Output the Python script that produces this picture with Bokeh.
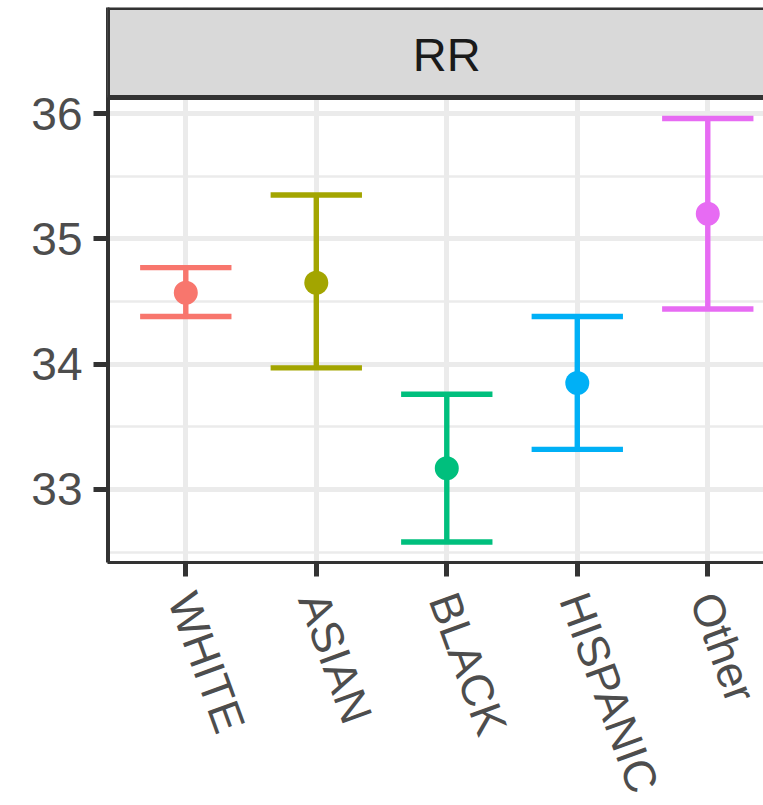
import math
from bokeh.plotting import figure
from bokeh.layouts import column
from bokeh.core.properties import value
from bokeh.models import FixedTicker, BoxAnnotation, Span, Label, ColumnDataSource, Range1d
from bokeh.embed import file_html
from bokeh.resources import INLINE

# ---- data ----
categories = ["WHITE", "ASIAN", "BLACK", "HISPANIC", "Other"]
mean_vals = [34.57, 34.65, 33.17, 33.85, 35.20]
lower_vals = [34.38, 33.97, 32.58, 33.32, 34.44]
upper_vals = [34.77, 35.35, 33.76, 34.38, 35.96]
colors = ["#F8766D", "#A3A500", "#00BF7D", "#00B0F6", "#E76BF3"]
facet_label = "RR"
y_ticks = [33, 34, 35, 36]
y_minor_ticks = [32.5, 33.5, 34.5, 35.5]

# ---- style / layout constants ----
cap_half = 0.35
x_start, x_end = 0.4, 5.427
y_start, y_end = 32.417, 36.846
strip_bottom = 36.128
FONT = "Liberation Sans"
MAIN_H = 582
LAB_H = 805 - MAIN_H
LABEL_TOP_GAP = 12  # px from top of label area to text anchor

xpos = [i + 1 for i in range(len(categories))]
src = ColumnDataSource(dict(
    x=xpos, mean=mean_vals, lo=lower_vals, hi=upper_vals, color=colors,
    xl=[x - cap_half for x in xpos], xr=[x + cap_half for x in xpos],
))

p = figure(width=763, height=MAIN_H, output_backend="svg", toolbar_location=None,
           x_range=Range1d(x_start, x_end), y_range=Range1d(y_start, y_end),
           min_border_left=107, min_border_right=0, min_border_top=7,
           min_border_bottom=20)
p.outline_line_color = None
p.background_fill_color = "white"
p.border_fill_color = "white"

# grids
xt = FixedTicker(ticks=xpos, minor_ticks=[])
yt = FixedTicker(ticks=y_ticks, minor_ticks=y_minor_ticks)
p.xaxis.ticker = xt
p.yaxis.ticker = yt
p.xgrid.ticker = xt
p.ygrid.ticker = yt
p.xgrid.grid_line_color = "#EBEBEB"
p.xgrid.grid_line_width = 5
p.ygrid.grid_line_color = "#EBEBEB"
p.ygrid.grid_line_width = 5
p.ygrid.minor_grid_line_color = "#EBEBEB"
p.ygrid.minor_grid_line_width = 2.7

# axes
for ax in (p.xaxis[0], p.yaxis[0]):
    ax.axis_line_color = "#333333"
    ax.axis_line_width = 3
    ax.major_tick_line_color = "#333333"
    ax.major_tick_line_width = 5
    ax.major_tick_out = 14
    ax.major_tick_in = 0
    ax.minor_tick_line_color = None
    ax.major_label_text_font = FONT
    ax.major_label_text_font_size = "46px"
    ax.major_label_text_color = "#4D4D4D"
    ax.major_label_standoff = 11
# x tick labels are drawn in the area below (they run off the page like the original)
p.xaxis.major_label_text_color = None
p.xaxis.major_label_text_font_size = "1px"
p.xaxis.major_label_standoff = 0

# error bars and points
p.segment(x0="x", x1="x", y0="lo", y1="hi", line_color="color", line_width=5.4, source=src)
p.segment(x0="xl", x1="xr", y0="hi", y1="hi", line_color="color", line_width=5.4, source=src)
p.segment(x0="xl", x1="xr", y0="lo", y1="lo", line_color="color", line_width=5.4, source=src)
p.scatter(x="x", y="mean", size=24, fill_color="color", line_color=None, source=src)

# facet strip
strip = BoxAnnotation(bottom=strip_bottom, fill_color="#D9D9D9", fill_alpha=1.0,
                      line_color=None)
p.add_layout(strip)
p.add_layout(Span(location=strip_bottom, dimension="width", line_color="#333333", line_width=5))
p.add_layout(Span(location=y_end, dimension="width", line_color="#333333", line_width=5))
p.add_layout(Span(location=x_start, dimension="height", line_color="#333333", line_width=5))
p.add_layout(Label(x=sum(xpos) / len(xpos), y=(strip_bottom + y_end) / 2, y_offset=-2,
                   text=facet_label, text_align="center", text_baseline="middle",
                   text_font=FONT, text_font_size="47px", text_color="#1A1A1A"))

# x tick labels area (shares the x scale of the panel)
q = figure(width=763, height=LAB_H, output_backend="svg", toolbar_location=None,
           x_range=p.x_range, y_range=Range1d(0, LAB_H),
           x_axis_type=None, y_axis_type=None,
           min_border_left=107, min_border_right=0, min_border_top=0, min_border_bottom=0)
q.outline_line_color = None
q.grid.visible = False
q.background_fill_color = "white"
q.border_fill_color = "white"
lab_src = ColumnDataSource(dict(x=xpos, y=[LAB_H - LABEL_TOP_GAP] * len(xpos), text=categories))
q.text(x="x", y="y", text="text", source=lab_src, angle=-70, angle_units="deg",
       x_offset=-4, text_align="left", text_baseline="middle", text_font=value(FONT),
       text_font_size=value("45px"), text_color="#4D4D4D")

layout = column(p, q, spacing=0)
open("out.html", "w").write(file_html(layout, INLINE))
